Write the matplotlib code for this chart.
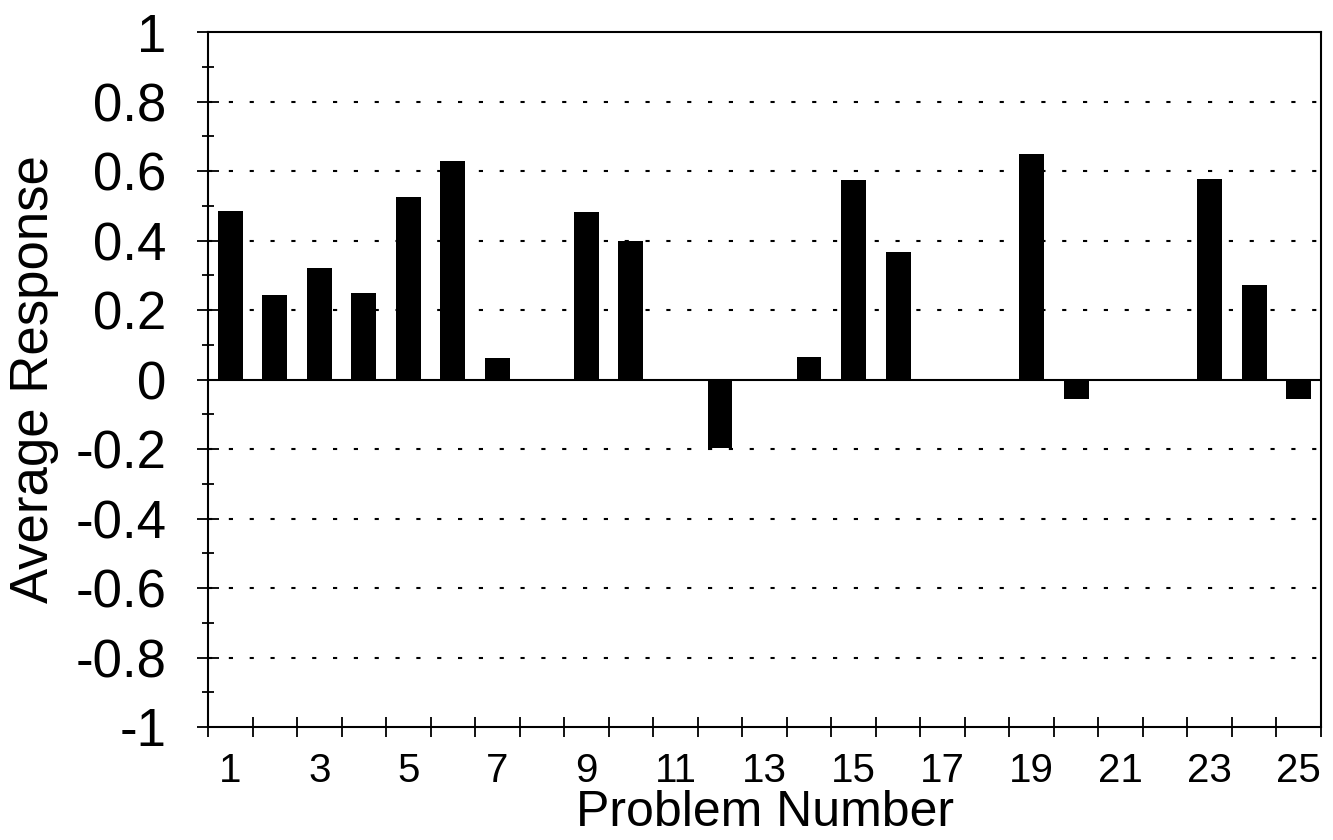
"""Average response per problem: black bar chart, dotted grid, framed axes."""

import matplotlib

matplotlib.use("Agg")
import matplotlib.pyplot as plt
import numpy as np

plt.rcParams["font.family"] = ["Liberation Sans", "DejaVu Sans"]

# one value per problem (0 = no bar)
problems = np.arange(1, 26)
avg_response = [
    0.485, 0.242, 0.32, 0.248, 0.525, 0.63, 0.063, 0.0, 0.481, 0.40,
    0.0, -0.196, 0.0, 0.064, 0.575, 0.366, 0.0, 0.0, 0.648, -0.057,
    0.0, 0.0, 0.576, 0.271, -0.057,
]
x_labels = [str(n) for n in range(1, 26, 2)]
y_major = np.round(np.arange(-1.0, 1.01, 0.2), 1)
y_labels = ["-1", "-0.8", "-0.6", "-0.4", "-0.2", "0", "0.2", "0.4", "0.6", "0.8", "1"]

fig = plt.figure(figsize=(13.33, 8.4), dpi=100)
ax = fig.add_axes([208 / 1333, 1 - 727 / 840, 1113 / 1333, 695 / 840])

ax.bar(problems, avg_response, width=0.56, color="black", zorder=3)
ax.axhline(0, color="black", lw=1.5, zorder=4)

# dotted grid at every 0.2 except 0 and the frame
for y in y_major:
    if abs(y) < 1e-9 or abs(abs(y) - 1) < 1e-9:
        continue
    ax.axhline(y, color="black", lw=1.5, dashes=(2, 8), zorder=1)

ax.set_xlim(0.5, 25.5)
ax.set_ylim(-1, 1)

# x: labels at odd problems, tick marks on the category boundaries
ax.set_xticks(np.arange(1, 26, 2))
ax.set_xticklabels(x_labels)
ax.set_xticks(np.arange(0.5, 25.6, 1.0), minor=True)
ax.tick_params(axis="x", which="major", length=0, pad=18, labelsize=29)
ax.tick_params(axis="x", which="minor", direction="inout", length=15, width=1.3)

ax.set_yticks(y_major)
ax.set_yticklabels(y_labels)
ax.set_yticks(np.round(np.arange(-0.9, 0.95, 0.2), 1), minor=True)
ax.tick_params(axis="y", which="major", direction="inout", length=16, width=1.3,
               pad=22, labelsize=38)
ax.tick_params(axis="y", which="minor", direction="inout", length=8, width=1.3)

for side in ("left", "right", "top", "bottom"):
    ax.spines[side].set_linewidth(1.5)

ax.set_xlabel("Problem Number", fontsize=36, labelpad=0)
ax.set_ylabel("Average Response", fontsize=38, labelpad=12)

fig.savefig("out.png", dpi=100)
